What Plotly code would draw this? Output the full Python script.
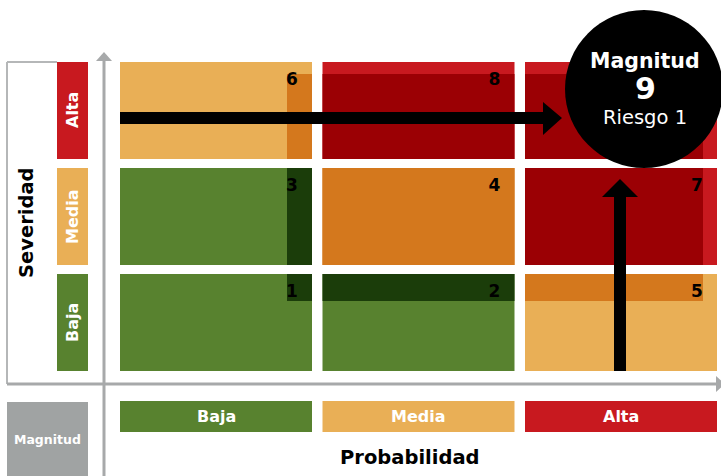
import plotly.graph_objects as go

# ---------------- data ----------------
severity_levels = ["Baja", "Media", "Alta"]        # rows, bottom -> top
probability_levels = ["Baja", "Media", "Alta"]     # columns, left -> right
magnitude = [                                      # magnitude[row][col]
    [1, 2, 5],
    [3, 4, 7],
    [6, 8, 9],
]
highlight_risk = "Riesgo 1"
highlight_row, highlight_col = 2, 2

# ---------------- style ----------------
GREEN = "#58822F"; DGREEN = "#1B3D0A"
LORANGE = "#E9AF56"; ORANGE = "#D4781D"
RED = "#C8191F"; DRED = "#9B0004"
GRAY = "#A7A9AA"; BOXGRAY = "#A0A3A3"
FONT = "DejaVu Sans"

def band_colors(m):
    if m <= 3:
        return GREEN, DGREEN
    if m == 4:
        return ORANGE, ORANGE
    if m <= 6:
        return LORANGE, ORANGE
    return RED, DRED

level_color = {"Baja": GREEN, "Media": LORANGE, "Alta": RED}

WIN_W, WIN_H = 721, 476
X0PX, COLPITCH = 120, 202.5
Y0PX, ROWPITCH = 371, 106
CELL_W = 192 / COLPITCH
CELL_H = 97 / ROWPITCH

def X(px):
    return (px - X0PX) / COLPITCH

def Y(py):
    return (Y0PX - py) / ROWPITCH

# overlay sub-rectangle fractions per column / row
col_overlay = [(X(287), CELL_W), (0, CELL_W), (0, X(703) - 2)]
row_overlay = [(Y(301), CELL_H), (0, CELL_H), (0, Y(74) - 2)]

shapes = []
annotations = []

def rect(x0, y0, x1, y1, color, layer="below"):
    shapes.append(dict(type="rect", xref="x", yref="y", x0=x0, y0=y0, x1=x1, y1=y1,
                       fillcolor=color, line=dict(width=0), layer=layer))

def line(x0, y0, x1, y1, color, width, layer="below"):
    shapes.append(dict(type="line", xref="x", yref="y", x0=x0, y0=y0, x1=x1, y1=y1,
                       line=dict(color=color, width=width), layer=layer))

def tri(pts, color, layer="below"):
    p = "M " + " L ".join(f"{a},{b}" for a, b in pts) + " Z"
    shapes.append(dict(type="path", xref="x", yref="y", path=p, fillcolor=color,
                       line=dict(width=0), layer=layer))

def text(x, y, s, size, color="black", angle=0, bold=True):
    annotations.append(dict(x=x, y=y, xref="x", yref="y", showarrow=False,
                            text=f"<b>{s}</b>" if bold else s, textangle=angle,
                            font=dict(family=FONT, size=size, color=color)))

# left framed box + axes
line(X(7), Y(62), X(7), Y(384), "#B5B7B8", 2)
line(X(7), Y(62), X(57), Y(62), "#B5B7B8", 2)
line(X(7), Y(384), X(716), Y(384), GRAY, 3)
tri([(X(716), Y(376)), (X(725), Y(384)), (X(716), Y(392))], GRAY)
line(X(104), Y(60), X(104), Y(480), GRAY, 3)
tri([(X(96), Y(61)), (X(104), Y(52)), (X(112), Y(61))], GRAY)

# matrix cells
num_x, num_y, num_t = [], [], []
for r in range(3):
    for c in range(3):
        m = magnitude[r][c]
        base, over = band_colors(m)
        rect(c, r, c + CELL_W, r + CELL_H, base)
        ox0, ox1 = col_overlay[c]
        oy0, oy1 = row_overlay[r]
        rect(c + ox0, r + oy0, c + ox1, r + oy1, over)
        if (r, c) != (highlight_row, highlight_col):   # hidden by the circle
            num_x.append(c + CELL_W - 20 / COLPITCH)
            num_y.append(r + CELL_H - 19 / ROWPITCH)
            num_t.append(f"<b>{m}</b>")

# row labels (severity)
for r, lev in enumerate(severity_levels):
    rect(X(57), r, X(88), r + CELL_H, level_color[lev])
    text((X(57) + X(88)) / 2, r + CELL_H / 2, lev, 16, "white", -90)

# column labels (probability)
for c, lev in enumerate(probability_levels):
    rect(c, Y(401), c + CELL_W, Y(432), level_color[lev])
    text(c + CELL_W / 2, (Y(401) + Y(432)) / 2, lev, 16, "white")

# Magnitud grey box
rect(X(7), Y(402), X(88), Y(480), BOXGRAY)
text(X(47.5), Y(439), "Magnitud", 12.5, "white")

# axis titles
text(X(26), Y(223), "Severidad", 19.5, "black", -90)
text(X(410), Y(457), "Probabilidad", 19.5, "black")

# black arrows towards the highlighted cell
ay = Y(118)
line(0, ay, X(544), ay, "black", 12, "above")
tri([(X(543), Y(102)), (X(562), ay), (X(543), Y(135))], "black", "above")
ax = highlight_col + CELL_W / 2 - 1 / COLPITCH
line(ax, 0, ax, Y(196), "black", 12, "above")
tri([(ax - 18 / COLPITCH, Y(197)), (ax, Y(179)), (ax + 18 / COLPITCH, Y(197))], "black", "above")

# highlight circle
cx, cy, rad = 644, 89, 79
shapes.append(dict(type="circle", xref="x", yref="y", x0=X(cx - rad), x1=X(cx + rad),
                   y0=Y(cy + rad), y1=Y(cy - rad), fillcolor="black",
                   line=dict(width=0), layer="above"))
text(X(645), Y(61), "Magnitud", 20.5, "white")
text(X(645), Y(88), str(magnitude[highlight_row][highlight_col]), 30, "white")
text(X(645), Y(117), highlight_risk, 19.5, "white", bold=False)

fig = go.Figure()
fig.add_trace(go.Scatter(x=num_x, y=num_y, mode="text", text=num_t,
                         textfont=dict(family=FONT, size=17, color="black"),
                         hoverinfo="skip", showlegend=False))
fig.update_layout(
    width=WIN_W, height=WIN_H, autosize=False,
    margin=dict(l=0, r=0, t=0, b=0),
    paper_bgcolor="white", plot_bgcolor="white",
    xaxis=dict(range=[X(0), X(WIN_W)], visible=False, fixedrange=True),
    yaxis=dict(range=[Y(WIN_H), Y(0)], visible=False, fixedrange=True),
    shapes=shapes, annotations=annotations, showlegend=False,
)
fig.write_html(
    "out.html",
    config={"displayModeBar": False},
    post_script="document.body.style.margin='0';document.body.style.overflow='hidden';",
)
